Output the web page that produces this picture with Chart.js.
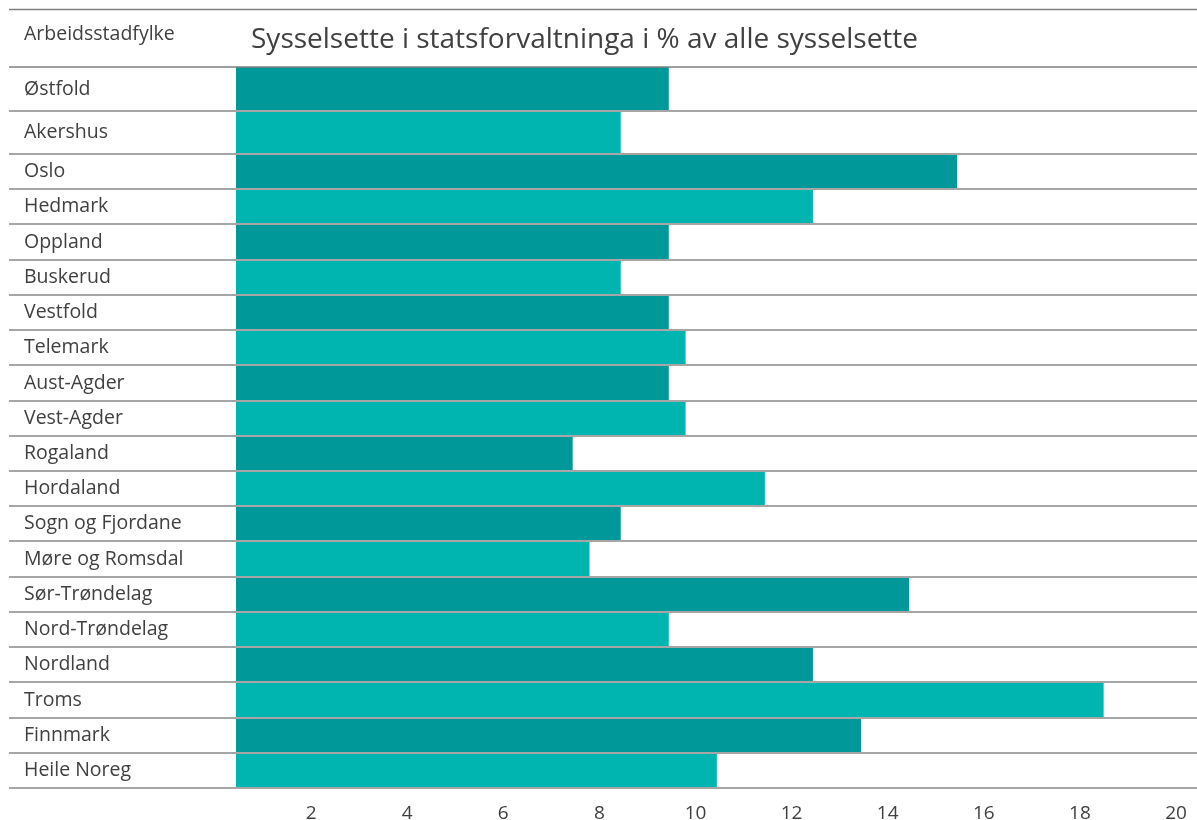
<!DOCTYPE html>
<html><head><meta charset="utf-8">
<script src="https://cdn.jsdelivr.net/npm/chart.js@4"></script>
<style>html,body{margin:0;padding:0;background:#fff;overflow:hidden}#wrap{width:1197px;height:820px;position:relative}</style>
</head><body><div id="wrap"><canvas id="c"></canvas></div>
<script>
const categories = ["Østfold","Akershus","Oslo","Hedmark","Oppland","Buskerud","Vestfold","Telemark","Aust-Agder","Vest-Agder","Rogaland","Hordaland","Sogn og Fjordane","Møre og Romsdal","Sør-Trøndelag","Nord-Trøndelag","Nordland","Troms","Finnmark","Heile Noreg"];
const values = [9.0, 8.0, 15.0, 12.0, 9.0, 8.0, 9.0, 9.35, 9.0, 9.35, 7.0, 11.0, 8.0, 7.35, 14.0, 9.0, 12.0, 18.05, 13.0, 10.0];
const tickValues = [2, 4, 6, 8, 10, 12, 14, 16, 18, 20];
const chartTitle = "Sysselsette i statsforvaltninga i % av alle sysselsette";
const headerLabel = "Arbeidsstadfylke";

const FONT = "'Open Sans', 'Noto Sans', sans-serif";
const TEXT = "#404040";

// table layout: row heights (first two rows of the table are taller)
const ROW_H = categories.map((c, i) => i === 0 ? 44 : (i === 1 ? 43 : 35.2));
const ROW_EDGE = [];
let acc = 0;
ROW_H.forEach(h => { ROW_EDGE.push(acc); acc += h; });
ROW_EDGE.push(acc);
const TOTAL_H = acc;
const rowCenter = i => ROW_EDGE[i] + ROW_H[i] / 2;

const tablePlugin = {
  id: 'tablePlugin',
  afterDatasetsDraw(chart) {
    const ctx = chart.ctx;
    const yS = chart.scales.y;
    ctx.save();
    ctx.strokeStyle = '#7f7f7f';
    ctx.lineWidth = 1.5;
    ctx.beginPath(); ctx.moveTo(9, 9.5); ctx.lineTo(chart.width, 9.5); ctx.stroke();
    const top = yS.getPixelForValue(0);
    ctx.beginPath(); ctx.moveTo(9, top); ctx.lineTo(chart.width, top); ctx.stroke();
    ctx.strokeStyle = '#a6a6a6';
    ctx.lineWidth = 2;
    for (let i = 1; i < ROW_EDGE.length; i++) {
      const y = Math.round(yS.getPixelForValue(ROW_EDGE[i]));
      ctx.beginPath(); ctx.moveTo(9, y); ctx.lineTo(chart.width, y); ctx.stroke();
    }
    ctx.restore();
  },
  afterDraw(chart) {
    const ctx = chart.ctx;
    ctx.save();
    ctx.fillStyle = TEXT;
    ctx.textBaseline = 'alphabetic';
    ctx.textAlign = 'left';
    ctx.font = "19.5px " + FONT;
    ctx.fillText(headerLabel, 24, 40);
    ctx.font = "28px " + FONT;
    ctx.fillText(chartTitle, 251, 48);
    ctx.restore();
  }
};

new Chart(document.getElementById('c'), {
  type: 'bar',
  data: {
    datasets: categories.map((c, i) => ({
      label: c,
      data: [{ x: values[i], y: rowCenter(i) }],
      backgroundColor: i % 2 === 0 ? '#009898' : '#00b5b0',
      borderWidth: 0,
      grouped: false,
      barThickness: ROW_H[i]
    }))
  },
  options: {
    indexAxis: 'y',
    responsive: true,
    maintainAspectRatio: false,
    animation: false,
    layout: { padding: { left: 24, top: 67, right: 0, bottom: 0 } },
    plugins: { legend: { display: false }, tooltip: { enabled: false }, title: { display: false } },
    scales: {
      x: {
        type: 'linear', position: 'bottom', min: 0, max: 20,
        grid: { display: false, drawTicks: false }, border: { display: false },
        afterBuildTicks: (s) => { s.ticks = tickValues.map(v => ({ value: v })); },
        afterFit: (s) => { s.paddingLeft = 0; s.paddingRight = 0; s.height = 32; },
        ticks: { autoSkip: false, maxRotation: 0, color: TEXT, font: { family: FONT, size: 19 }, padding: 14, labelOffset: -21 }
      },
      y: {
        type: 'linear', reverse: true, min: 0, max: TOTAL_H, offset: false,
        grid: { display: false, drawTicks: false, offset: false }, border: { display: false },
        afterBuildTicks: (s) => { s.ticks = categories.map((c, i) => ({ value: rowCenter(i) })); },
        afterFit: (s) => { s.width = 212; s.paddingTop = 0; s.paddingBottom = 0; },
        ticks: {
          autoSkip: false, crossAlign: 'far', padding: 0, color: TEXT,
          font: { family: FONT, size: 19.5 },
          callback: (v, idx) => categories[idx]
        }
      }
    }
  },
  plugins: [tablePlugin]
});
</script></body></html>
